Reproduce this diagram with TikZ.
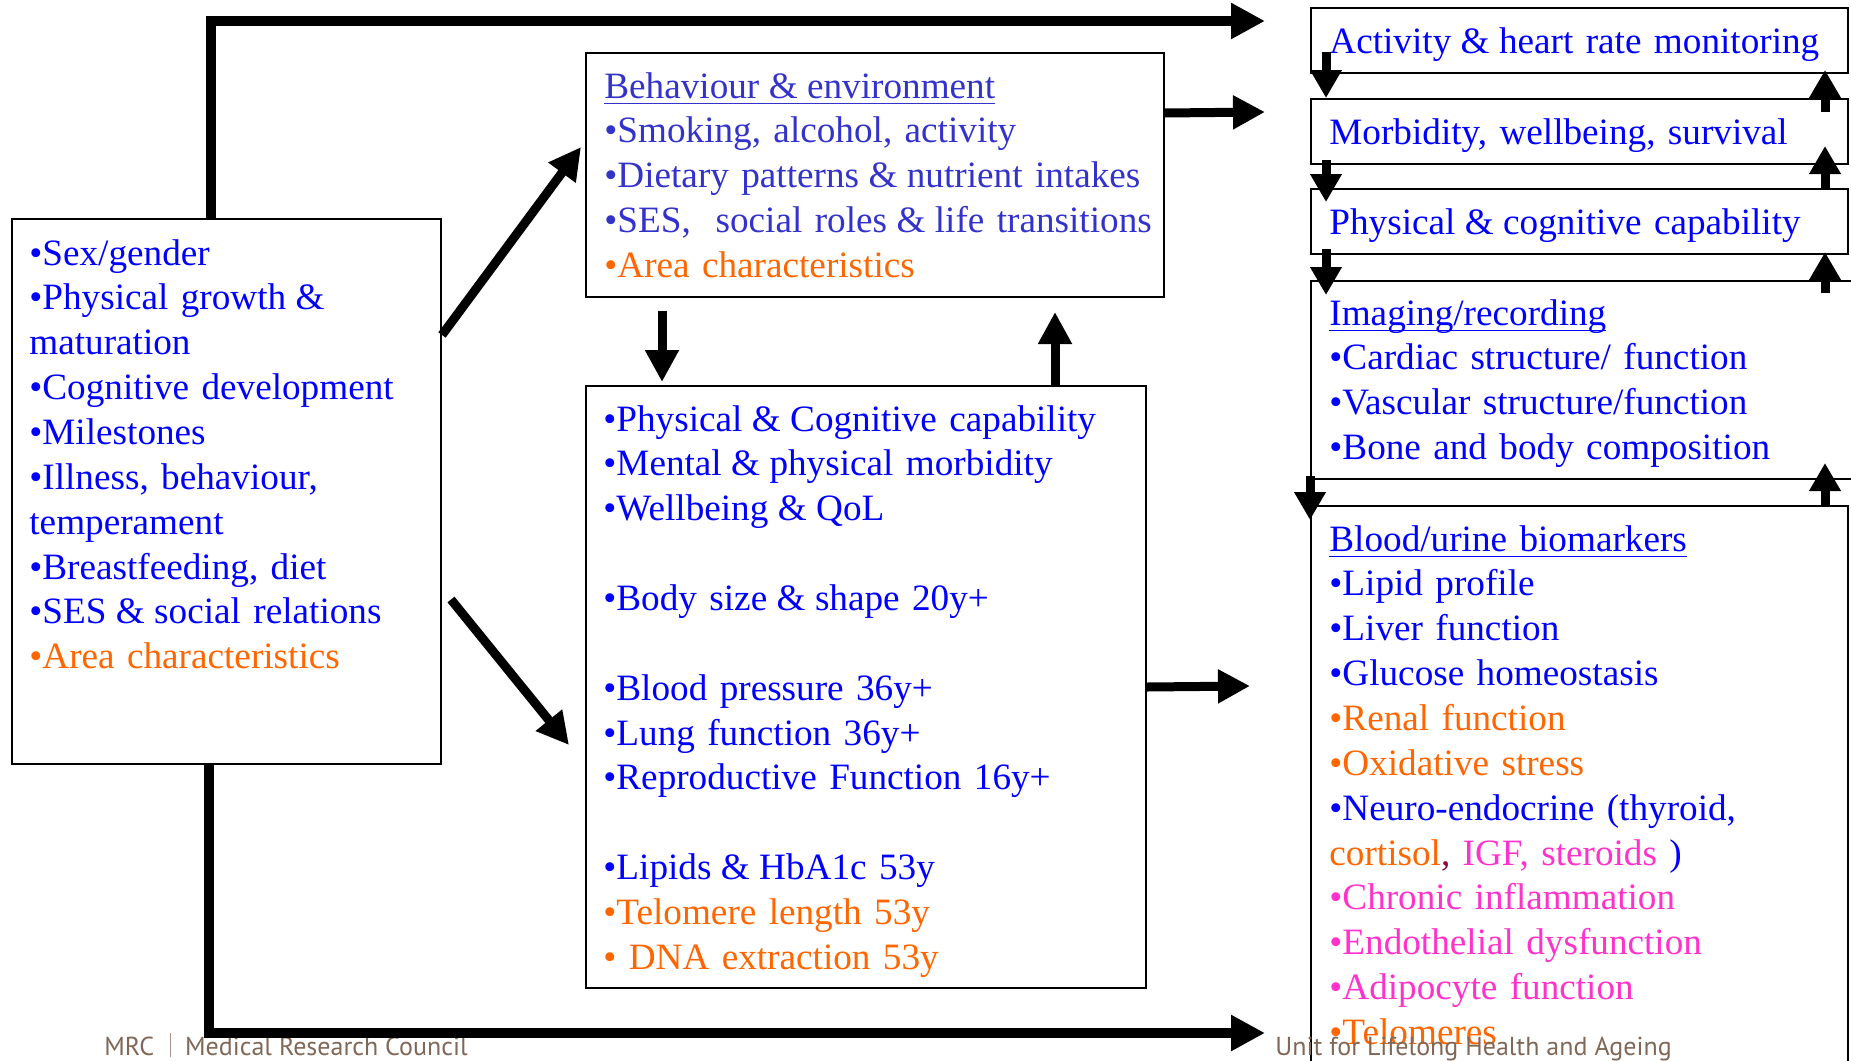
\documentclass[tikz,border=0pt]{standalone}
\usepackage{fontspec}
\setmainfont{Liberation Serif}
\newfontfamily\footfont{PT Sans}
\usepackage{xcolor}
\usetikzlibrary{arrows.meta, positioning, calc}
\definecolor{itemblue}{RGB}{0,0,255}
\definecolor{behavblue}{RGB}{51,51,204}
\definecolor{areaorange}{RGB}{255,102,0}
\definecolor{markerpink}{RGB}{255,51,204}
\definecolor{commared}{RGB}{153,0,51}
\definecolor{mrcbrown}{RGB}{128,104,88}
\newcommand{\headul}[1]{\setbox0=\hbox{#1}\rlap{\rule[-3.2pt]{\wd0}{0.9pt}}\box0}
\newcommand{\andsign}{\kern-1.5pt\&\kern-1.5pt}

\begin{document}
\begin{tikzpicture}[
    x=0.5pt, y=-0.5pt,
    box/.style={rectangle, draw, line width=1pt, anchor=north west, inner sep=0pt},
    items/.style={anchor=base west, inner sep=0pt, align=left, text width=#1,
        font=\fontsize{18.6pt}{22.43pt}\selectfont, text=itemblue},
    items/.default=260pt,
    longarrow/.style={line width=5pt, -{Triangle[length=17pt, width=17pt]}},
    fatarrow/.style={line width=4.5pt, -{Triangle[length=16pt, width=16pt]}},
    stackarrow/.style={line width=4.5pt, -{Triangle[length=14pt, width=15pt]}},
    foot/.style={anchor=base west, inner sep=0pt, font=\footfont\fontsize{13pt}{15pt}\selectfont, text=mrcbrown}
]
\useasboundingbox (0,0) rectangle (1851,1060);

% boxes
\node[box, minimum width=214.5pt, minimum height=272.5pt] (leftbox) at (11,218) {};
\node[box, minimum width=289pt, minimum height=122pt] (behavbox) at (585,52) {};
\node[box, minimum width=280pt, minimum height=301pt] (midbox) at (585,385) {};
\node[box, minimum width=268.5pt, minimum height=32.5pt] (actbox) at (1310,7) {};
\node[box, minimum width=268.5pt, minimum height=32.5pt] (morbbox) at (1310,98) {};
\node[box, minimum width=268.5pt, minimum height=32.5pt] (physbox) at (1310,188) {};
\node[box, minimum width=290pt, minimum height=99pt] (imagbox) at (1310,280) {};
\node[box, minimum width=268.5pt, minimum height=290pt] (bloodbox) at (1310,505) {};

% texts
\node[items=210pt] (lefttxt) at (29,265) {•Sex/gender\\
•Physical growth \andsign\\maturation\\
•Cognitive development\\
•Milestones\\
•Illness, behaviour,\\temperament\\
•Breastfeeding, diet\\
•SES \andsign{} social relations\\
{\color{areaorange}•Area characteristics}};

\node[items=300pt, text=behavblue] (behavtxt) at (604,98) {\headul{Behaviour \andsign{} environment}\\
•Smoking, alcohol, activity\\
•Dietary patterns \andsign{} nutrient intakes\\
•SES,\ \ social roles \andsign{} life transitions\\
{\color{areaorange}•Area characteristics}};

\node[items=290pt] (midtxt) at (603,431) {•Physical \andsign{} Cognitive capability\\
•Mental \andsign{} physical morbidity\\
•Wellbeing \andsign{} QoL\\[22.43pt]
•Body size \andsign{} shape 20y+\\[22.43pt]
•Blood pressure 36y+\\
•Lung function 36y+\\
•Reproductive Function 16y+\\[22.43pt]
•Lipids \andsign{} HbA1c 53y\\
{\color{areaorange}•Telomere length 53y}\\
{\color{areaorange}• DNA extraction 53y}};

\node[items] (acttxt) at (1329,53) {Activity \andsign{} heart rate monitoring};
\node[items] (morbtxt) at (1329,144) {Morbidity, wellbeing, survival};
\node[items] (phystxt) at (1329,234) {Physical \andsign{} cognitive capability};

\node[items] (imagtxt) at (1329,325) {\headul{Imaging/recording}\\
•Cardiac structure/ function\\
•Vascular structure/function\\
•Bone and body composition};

\node[items] (bloodtxt) at (1329,551) {\headul{Blood/urine biomarkers}\\
•Lipid profile\\
•Liver function\\
•Glucose homeostasis\\
{\color{areaorange}•Renal function}\\
{\color{areaorange}•Oxidative stress}\\
•Neuro-endocrine (thyroid,\\
{\color{areaorange}cortisol}{\color{commared},} {\color{markerpink}IGF, steroids })\\
{\color{markerpink}•Chronic inflammation}\\
{\color{markerpink}•Endothelial dysfunction}\\
{\color{markerpink}•Adipocyte function}\\
{\color{areaorange}•Telomeres}};

% footer
\node[foot] (mrcname) at (104,1055) {MRC\hspace{8pt}{\color{mrcbrown!70}\rule[-1pt]{0.5pt}{12pt}}\hspace{7pt}Medical Research Council};
\node[foot] (unitname) at (1275,1055) {Unit for Lifelong Health and Ageing};

% long arrows round the outside
\coordinate (topend) at (1265,21);
\coordinate (botend) at (1265,1033);
\draw[longarrow] ([xshift=-7.75pt]leftbox.north) |- (topend);
\draw[longarrow] ([xshift=-8.75pt]leftbox.south) |- (botend);

% arrows between the middle boxes
\draw[fatarrow] ([yshift=78.25pt]leftbox.east) -- ([xshift=-2pt,yshift=14pt]behavbox.west);
\draw[fatarrow] ([xshift=4.5pt,yshift=-54pt]leftbox.east) -- ([xshift=-8pt,yshift=-29pt]midbox.west);
\draw[fatarrow] ([xshift=-106.5pt,yshift=-6.5pt]behavbox.south) -- ([xshift=-102pt,yshift=1.5pt]midbox.north);
\draw[fatarrow] ([xshift=94.5pt]midbox.north) -- ([xshift=90pt,yshift=-7pt]behavbox.south);

\coordinate (behavend) at (1265,112);
\coordinate (midend) at (1250,686);
\draw[fatarrow] ([yshift=31pt]behavbox.east) -- (behavend);
\draw[fatarrow] (midbox.east) -- (midend);

% arrows down the outcome stack
\draw[stackarrow] ([xshift=8pt,yshift=11pt]actbox.south west) -- ([xshift=8pt]morbbox.north west);
\draw[stackarrow] ([xshift=8pt,yshift=2.5pt]morbbox.south west) -- ([xshift=8pt,yshift=-7pt]physbox.north west);
\draw[stackarrow] ([xshift=8pt,yshift=3pt]physbox.south west) -- ([xshift=8pt,yshift=-7.5pt]imagbox.north west);
\draw[stackarrow] ([yshift=2pt]imagbox.south west) -- ([yshift=-7.5pt]bloodbox.north west);

% arrows up the outcome stack
\draw[stackarrow] ([xshift=-12pt,yshift=-7pt]morbbox.north east) -- ([xshift=-12pt,yshift=2pt]actbox.south east);
\draw[stackarrow] ([xshift=-12pt]physbox.north east) -- ([xshift=-12pt,yshift=9.5pt]morbbox.south east);
\draw[stackarrow] ([xshift=-12pt,yshift=-6.5pt]physbox.east |- imagbox.north) -- ([xshift=-12pt,yshift=1.5pt]physbox.south east);
\draw[stackarrow] ([xshift=-12pt]bloodbox.north east) -- ([xshift=-12pt,yshift=8.5pt]bloodbox.east |- imagbox.south);
\end{tikzpicture}
\end{document}
